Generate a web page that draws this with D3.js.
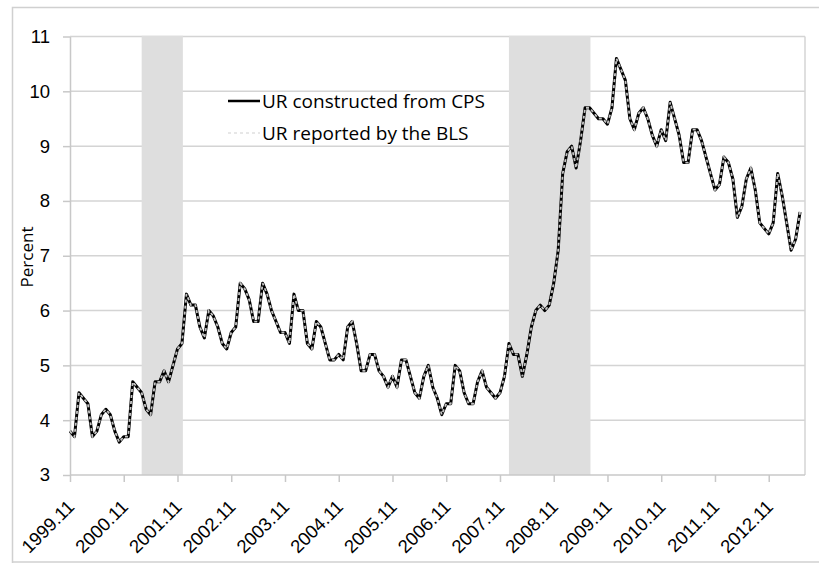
<!doctype html>
<html>
<head>
<meta charset="utf-8">
<title>Unemployment rate, CPS vs BLS</title>
<script src="https://d3js.org/d3.v7.min.js"></script>
<style>
  body { margin: 0; background: #fff; }
  svg { display: block; font-family: "Open Sans", sans-serif; }
  .grid line { stroke: #d4d4d4; stroke-width: 1.5px; }
  .axis path, .axis line { stroke: #c8c8c8; stroke-width: 1.5px; }
  .axis text { fill: #000; font-size: 18.5px; }
</style>
</head>
<body>
<div id="chart"></div>
<script>
// monthly unemployment rate, 1999.11 - 2013.06
var startYear = 1999, startMonth = 11;

// UR constructed from CPS
var cpsRate = [
  3.8, 3.7,
  4.5, 4.4, 4.3, 3.7, 3.8, 4.1, 4.2, 4.1, 3.8, 3.6, 3.7, 3.7,       // 2000
  4.7, 4.6, 4.5, 4.2, 4.1, 4.7, 4.7, 4.9, 4.7, 5.0, 5.3, 5.4,       // 2001
  6.3, 6.1, 6.1, 5.7, 5.5, 6.0, 5.9, 5.7, 5.4, 5.3, 5.6, 5.7,       // 2002
  6.5, 6.4, 6.2, 5.8, 5.8, 6.5, 6.3, 6.0, 5.8, 5.6, 5.6, 5.4,       // 2003
  6.3, 6.0, 6.0, 5.4, 5.3, 5.8, 5.7, 5.4, 5.1, 5.1, 5.2, 5.1,       // 2004
  5.7, 5.8, 5.4, 4.9, 4.9, 5.2, 5.2, 4.9, 4.8, 4.6, 4.8, 4.6,       // 2005
  5.1, 5.1, 4.8, 4.5, 4.4, 4.8, 5.0, 4.6, 4.4, 4.1, 4.3, 4.3,       // 2006
  5.0, 4.9, 4.5, 4.3, 4.3, 4.7, 4.9, 4.6, 4.5, 4.4, 4.5, 4.8,       // 2007
  5.4, 5.2, 5.2, 4.8, 5.2, 5.7, 6.0, 6.1, 6.0, 6.1, 6.5, 7.1,       // 2008
  8.5, 8.9, 9.0, 8.6, 9.1, 9.7, 9.7, 9.6, 9.5, 9.5, 9.4, 9.7,       // 2009
  10.6, 10.4, 10.2, 9.5, 9.3, 9.6, 9.7, 9.5, 9.2, 9.0, 9.3, 9.1,    // 2010
  9.8, 9.5, 9.2, 8.7, 8.7, 9.3, 9.3, 9.1, 8.8, 8.5, 8.2, 8.3,       // 2011
  8.8, 8.7, 8.4, 7.7, 7.9, 8.4, 8.6, 8.2, 7.6, 7.5, 7.4, 7.6,       // 2012
  8.5, 8.1, 7.6, 7.1, 7.3, 7.8                                      // 2013
];

// UR reported by the BLS
var blsRate = [
  3.8, 3.7,
  4.5, 4.4, 4.3, 3.7, 3.8, 4.1, 4.2, 4.1, 3.8, 3.6, 3.7, 3.7,
  4.7, 4.6, 4.5, 4.2, 4.1, 4.7, 4.7, 4.9, 4.7, 5.0, 5.3, 5.4,
  6.3, 6.1, 6.1, 5.7, 5.5, 6.0, 5.9, 5.7, 5.4, 5.3, 5.6, 5.7,
  6.5, 6.4, 6.2, 5.8, 5.8, 6.5, 6.3, 6.0, 5.8, 5.6, 5.6, 5.4,
  6.3, 6.0, 6.0, 5.4, 5.3, 5.8, 5.7, 5.4, 5.1, 5.1, 5.2, 5.1,
  5.7, 5.8, 5.4, 4.9, 4.9, 5.2, 5.2, 4.9, 4.8, 4.6, 4.8, 4.6,
  5.1, 5.1, 4.8, 4.5, 4.4, 4.8, 5.0, 4.6, 4.4, 4.1, 4.3, 4.3,
  5.0, 4.9, 4.5, 4.3, 4.3, 4.7, 4.9, 4.6, 4.5, 4.4, 4.5, 4.8,
  5.4, 5.2, 5.2, 4.8, 5.2, 5.7, 6.0, 6.1, 6.0, 6.1, 6.5, 7.1,
  8.5, 8.9, 9.0, 8.6, 9.1, 9.7, 9.7, 9.6, 9.5, 9.5, 9.4, 9.7,
  10.6, 10.4, 10.2, 9.5, 9.3, 9.6, 9.7, 9.5, 9.2, 9.0, 9.3, 9.1,
  9.8, 9.5, 9.2, 8.7, 8.7, 9.3, 9.3, 9.1, 8.8, 8.5, 8.2, 8.3,
  8.8, 8.7, 8.4, 7.7, 7.9, 8.4, 8.6, 8.2, 7.6, 7.5, 7.4, 7.6,
  8.5, 8.1, 7.6, 7.1, 7.3, 7.8
];

var tickLabels = ["1999.11", "2000.11", "2001.11", "2002.11", "2003.11", "2004.11", "2005.11",
                  "2006.11", "2007.11", "2008.11", "2009.11", "2010.11", "2011.11", "2012.11"];
var yTicks = [3, 4, 5, 6, 7, 8, 9, 10, 11];

// shaded recessions (start month, end month)
var recessions = [["2001.03", "2001.12"], ["2008.01", "2009.07"]];

var seriesNames = ["UR constructed from CPS", "UR reported by the BLS"];

// month label -> position in the series
function monthIndex(s) {
  var p = s.split(".");
  return (+p[0] - startYear) * 12 + (+p[1] - startMonth);
}

var width = 819, height = 563;

var svg = d3.select("#chart").append("svg")
    .attr("width", width)
    .attr("height", height);

// outer chart frame
svg.append("path")
    .attr("d", "M12.5,570 V7.5 H830")
    .attr("fill", "none")
    .attr("stroke", "#d0d0d0")
    .attr("stroke-width", 1.5);
svg.append("line")
    .attr("x1", 12).attr("x2", 830)
    .attr("y1", 562).attr("y2", 562)
    .attr("stroke", "#d0d0d0")
    .attr("stroke-width", 1.5);

var x = d3.scaleLinear().domain([0, 164.1]).range([70, 805]);
var y = d3.scaleLinear().domain([3, 11]).range([475, 36.5]);

// gridlines
svg.append("g")
    .attr("class", "grid")
  .selectAll("line")
  .data(yTicks.slice(1))
  .enter().append("line")
    .attr("x1", x(0)).attr("x2", x.range()[1])
    .attr("y1", function(d) { return y(d); })
    .attr("y2", function(d) { return y(d); });

// right edge of plot area
svg.append("line")
    .attr("x1", x.range()[1]).attr("x2", x.range()[1])
    .attr("y1", y(11)).attr("y2", y(3))
    .attr("stroke", "#d4d4d4")
    .attr("stroke-width", 1.5);

// recession bands
svg.selectAll("rect.rec")
  .data(recessions)
  .enter().append("rect")
    .attr("class", "rec")
    .attr("x", function(d) { return x(monthIndex(d[0])); })
    .attr("width", function(d) { return x(monthIndex(d[1]) + 0.2) - x(monthIndex(d[0])); })
    .attr("y", y(11) - 0.75)
    .attr("height", y(3) - y(11) + 0.75)
    .attr("fill", "#dedede");

// axes
var xAxis = svg.append("g")
    .attr("class", "axis")
    .attr("transform", "translate(0," + y(3) + ")")
    .call(d3.axisBottom(x)
      .tickValues(tickLabels.map(monthIndex))
      .tickFormat(function(d, i) { return tickLabels[i]; })
      .tickSize(7)
      .tickSizeOuter(0));
xAxis.select(".domain").attr("d", "M" + x(0) + ",0H" + x.range()[1]);
xAxis.selectAll("text")
    .attr("text-anchor", "end")
    .attr("dy", null)
    .attr("y", 0)
    .attr("transform", "translate(5,33) rotate(-45)");

var yAxis = svg.append("g")
    .attr("class", "axis")
    .attr("transform", "translate(" + x(0) + ",0)")
    .call(d3.axisLeft(y)
      .tickValues(yTicks)
      .tickFormat(d3.format("d"))
      .tickSize(7)
      .tickSizeOuter(0));
yAxis.selectAll("text").attr("x", -20);

svg.append("text")
    .attr("transform", "translate(33,257) rotate(-90)")
    .attr("text-anchor", "middle")
    .style("font-size", "17px")
    .text("Percent");

// lines
var line = d3.line()
    .x(function(d, i) { return x(i); })
    .y(function(d) { return y(d); });

svg.append("path")
    .datum(cpsRate)
    .attr("fill", "none")
    .attr("stroke", "#000")
    .attr("stroke-width", 3)
    .attr("stroke-linejoin", "round")
    .attr("d", line);

svg.append("path")
    .datum(blsRate)
    .attr("fill", "none")
    .attr("stroke", "#c4c4c4")
    .attr("stroke-width", 1.8)
    .attr("stroke-dasharray", "3,3")
    .attr("d", line);

// legend
var legend = svg.append("g").attr("transform", "translate(228,101)");
legend.append("line")
    .attr("x1", 0).attr("x2", 32).attr("y1", 0).attr("y2", 0)
    .attr("stroke", "#000").attr("stroke-width", 2.5);
legend.append("line")
    .attr("x1", 0).attr("x2", 32).attr("y1", 32).attr("y2", 32)
    .attr("stroke", "#cfcfcf").attr("stroke-width", 1)
    .attr("stroke-dasharray", "3,3");
legend.selectAll("text")
  .data(seriesNames)
  .enter().append("text")
    .attr("x", 34)
    .attr("y", function(d, i) { return i * 32; })
    .attr("dy", "0.35em")
    .style("font-size", "19px")
    .text(function(d) { return d; });
</script>
</body>
</html>
